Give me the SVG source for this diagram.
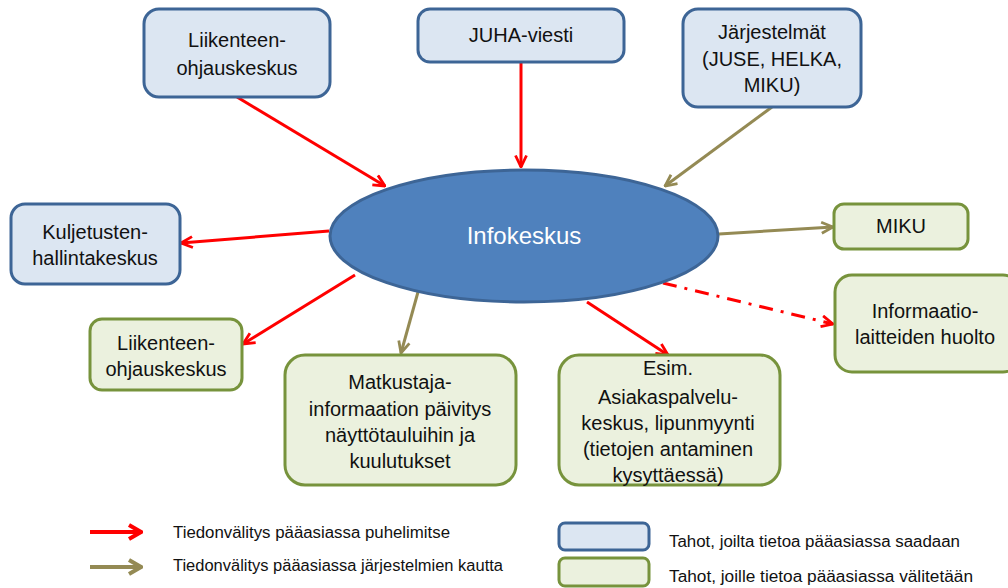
<svg xmlns="http://www.w3.org/2000/svg" width="1008" height="588" viewBox="0 0 1008 588">
<style>
.src{fill:#DCE6F2;stroke:#3D6596;stroke-width:3}
.dst{fill:#EBF1DE;stroke:#77933C;stroke-width:3}
.t{font-family:"Liberation Sans",Arial,sans-serif;font-size:20px;fill:#111;text-anchor:middle}
.lg{font-family:"Liberation Sans",Arial,sans-serif;font-size:16px;fill:#111}
.red{stroke:#FF0000;stroke-width:3;fill:none}
.olv{stroke:#948A54;stroke-width:3;fill:none}
</style>
<defs>
<marker id="ar" viewBox="0 0 14 14" refX="13" refY="7" markerWidth="14" markerHeight="14" markerUnits="userSpaceOnUse" orient="auto">
<path d="M1.5,1.5 L13,7 L1.5,12.5" fill="none" stroke="#FF0000" stroke-width="2.8"/>
</marker>
<marker id="ao" viewBox="0 0 14 14" refX="13" refY="7" markerWidth="14" markerHeight="14" markerUnits="userSpaceOnUse" orient="auto">
<path d="M1.5,1.5 L13,7 L1.5,12.5" fill="none" stroke="#948A54" stroke-width="2.8"/>
</marker>
<marker id="lr" viewBox="0 0 16 18" refX="15" refY="9" markerWidth="16" markerHeight="18" markerUnits="userSpaceOnUse" orient="auto">
<path d="M2,2 L14,9 L2,16" fill="none" stroke="#FF0000" stroke-width="4"/>
</marker>
<marker id="lo" viewBox="0 0 16 18" refX="15" refY="9" markerWidth="16" markerHeight="18" markerUnits="userSpaceOnUse" orient="auto">
<path d="M2,2 L14,9 L2,16" fill="none" stroke="#948A54" stroke-width="4"/>
</marker>
</defs>
<rect width="1008" height="588" fill="#FFFFFF"/>

<g id="connectors">
<line class="red" x1="237" y1="97" x2="385" y2="186" marker-end="url(#ar)"/>
<line class="red" x1="521" y1="62" x2="521" y2="167" marker-end="url(#ar)"/>
<line class="olv" x1="772" y1="107" x2="665" y2="186" marker-end="url(#ao)"/>
<line class="red" x1="329" y1="231" x2="181" y2="243" marker-end="url(#ar)"/>
<line class="red" x1="355" y1="275" x2="243" y2="344" marker-end="url(#ar)"/>
<line class="olv" x1="418" y1="292" x2="401" y2="353" marker-end="url(#ao)"/>
<line class="red" x1="587" y1="302" x2="668" y2="355" marker-end="url(#ar)"/>
<line class="olv" x1="719" y1="234" x2="833" y2="227" marker-end="url(#ao)"/>
<line class="red" x1="663" y1="283" x2="833" y2="324" stroke-dasharray="14,8,3,8" marker-end="url(#ar)"/>
</g>

<g id="infokeskus">
<ellipse cx="524" cy="236" rx="194" ry="66" fill="#4F81BD" stroke="#3D6596" stroke-width="3"/>
<text x="524" y="244" font-family="Liberation Sans,Arial,sans-serif" font-size="24" fill="#FFFFFF" text-anchor="middle">Infokeskus</text>
</g>

<g id="liikenteen-src">
<rect class="src" x="144" y="9" width="186" height="88" rx="15"/>
<text class="t" x="237" y="47">Liikenteen-</text>
<text class="t" x="237" y="75">ohjauskeskus</text>
</g>

<g id="juha">
<rect class="src" x="418" y="9" width="206" height="53" rx="12"/>
<text class="t" x="521" y="42">JUHA-viesti</text>
</g>

<g id="jarjestelmat">
<rect class="src" x="683" y="9" width="178" height="98" rx="15"/>
<text class="t" x="772" y="39">Järjestelmät</text>
<text class="t" x="772" y="66">(JUSE, HELKA,</text>
<text class="t" x="772" y="92">MIKU)</text>
</g>

<g id="kuljetusten">
<rect class="src" x="11" y="204" width="169" height="80" rx="14"/>
<text class="t" x="95" y="239">Kuljetusten-</text>
<text class="t" x="95" y="265">hallintakeskus</text>
</g>

<g id="liikenteen-dst">
<rect class="dst" x="90" y="319" width="152" height="71" rx="12"/>
<text class="t" x="166" y="350">Liikenteen-</text>
<text class="t" x="166" y="376">ohjauskeskus</text>
</g>

<g id="matkustaja">
<rect class="dst" x="285" y="355" width="231" height="130" rx="20"/>
<text class="t" x="400" y="389">Matkustaja-</text>
<text class="t" x="400" y="416">informaation päivitys</text>
<text class="t" x="400" y="442">näyttötauluihin ja</text>
<text class="t" x="400" y="468">kuulutukset</text>
</g>

<g id="esim">
<rect class="dst" x="559" y="355" width="221" height="130" rx="20"/>
<text class="t" x="668" y="375">Esim.</text>
<text class="t" x="668" y="404">Asiakaspalvelu-</text>
<text class="t" x="668" y="430">keskus, lipunmyynti</text>
<text class="t" x="668" y="456">(tietojen antaminen</text>
<text class="t" x="668" y="482">kysyttäessä)</text>
</g>

<g id="miku">
<rect class="dst" x="834" y="204" width="134" height="45" rx="10"/>
<text class="t" x="901" y="233">MIKU</text>
</g>

<g id="informaatio">
<rect class="dst" x="835" y="275" width="185" height="97" rx="17"/>
<text class="t" x="925" y="318">Informaatio-</text>
<text class="t" x="925" y="344">laitteiden huolto</text>
</g>

<g id="legend">
<line x1="90" y1="532" x2="142" y2="532" stroke="#FF0000" stroke-width="4" marker-end="url(#lr)"/>
<line x1="90" y1="567" x2="142" y2="567" stroke="#948A54" stroke-width="4" marker-end="url(#lo)"/>
<text class="lg" x="173" y="538" textLength="277" lengthAdjust="spacingAndGlyphs">Tiedonvälitys pääasiassa puhelimitse</text>
<text class="lg" x="173" y="571" textLength="330" lengthAdjust="spacingAndGlyphs">Tiedonvälitys pääasiassa järjestelmien kautta</text>
<rect class="src" x="559" y="523" width="90" height="27" rx="6"/>
<rect class="dst" x="559" y="558" width="90" height="28" rx="6"/>
<text class="lg" x="669" y="547" textLength="291" lengthAdjust="spacingAndGlyphs">Tahot, joilta tietoa pääasiassa saadaan</text>
<text class="lg" x="669" y="582" textLength="304" lengthAdjust="spacingAndGlyphs">Tahot, joille tietoa pääasiassa välitetään</text>
</g>
</svg>
